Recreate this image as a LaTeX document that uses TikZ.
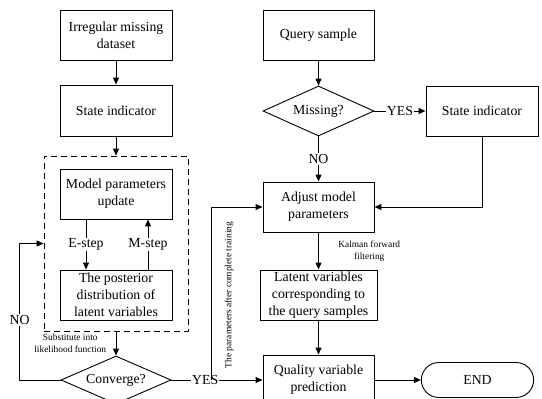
\documentclass[tikz,border=0pt]{standalone}
\usepackage{fontspec}
\setmainfont{Liberation Serif}
\usepackage{tikz}
\usetikzlibrary{shapes.geometric}
\usetikzlibrary{shapes.misc}
\usetikzlibrary{arrows.meta}
\usetikzlibrary{positioning}

\begin{document}
\begin{tikzpicture}[x=1pt, y=-1pt,
  font=\fontsize{13.8}{17}\selectfont,
  box/.style={draw, line width=0.9pt, minimum width=112pt, minimum height=50pt, inner sep=1pt, align=center},
  cond/.style={draw, diamond, line width=0.9pt, aspect=2.2, inner sep=0pt, minimum width=110pt, minimum height=48pt},
  arr/.style={line width=1pt, -{Triangle[length=7pt,width=6pt]}},
  tag/.style={fill=white, inner sep=1pt},
  note/.style={font=\fontsize{9.4}{12}\selectfont, align=center}]
  \useasboundingbox (0,0) rectangle (542,399);

  % training branch
  \node[box] (data) at (116,35) {Irregular missing\\dataset};
  \node[box, minimum height=51pt] (ind1) at (116,110.5) {State indicator};
  \node[draw, dash pattern=on 6pt off 4pt, line width=0.9pt, minimum width=144pt, minimum height=175pt] (em) at (116,243.5) {};
  \node[box] (update) at (116,194) {Model parameters\\update};
  \node[box] (post) at (116,295) {The posterior\\distribution of\\latent variables};
  \node[cond] (conv) at (116,380) {Converge?};

  % query branch
  \node[box, minimum width=111pt] (query) at (318.5,35) {Query sample};
  \node[cond, minimum width=111pt, minimum height=50pt] (miss) at (318.5,111) {Missing?};
  \node[box] (ind2) at (482,111) {State indicator};
  \node[box, minimum width=111pt] (adjust) at (318.5,207) {Adjust model\\parameters};
  \node[box, minimum width=117pt] (latent) at (318.5,295) {Latent variables\\corresponding to\\the query samples};
  \node[box, minimum width=111pt] (quality) at (318.5,380) {Quality variable\\prediction};
  \node[draw, rounded rectangle, line width=0.9pt, minimum width=119pt, minimum height=35pt] (end) at (477.5,380) {END};

  \coordinate (branch) at (211,380);

  \draw[arr] (data) -- (ind1);
  \draw[arr] (ind1) -- (em);
  \draw[arr] ([xshift=-30pt]update.south) -- node[tag]{E-step} ([xshift=-30pt]post.north);
  \draw[arr] ([xshift=32pt]post.north) -- node[tag]{M-step} ([xshift=32pt]update.south);
  \draw[arr] (em) -- node[note, left=6pt]{Substitute into\\likelihood function} (conv);
  \draw[arr] (conv.west) -- ++(-41,0) |- node[tag, pos=0.22]{NO} (em.west);
  \draw[arr] (conv) -- node[tag, pos=0.37]{YES} (quality);
  \draw[arr] (branch) |- (adjust);
  \node[note, rotate=90] (train) at (229,295) {The parameters after complete training};

  \draw[arr] (query) -- (miss);
  \draw[arr] (miss) -- node[tag]{YES} (ind2);
  \draw[arr] (miss) -- node[tag]{NO} (adjust);
  \draw[arr] (ind2) |- (adjust);
  \draw[arr] (adjust) -- node[note, right=16pt]{Kalman forward\\filtering} (latent);
  \draw[arr] (latent) -- (quality);
  \draw[arr] (quality) -- (end);
\end{tikzpicture}
\end{document}
